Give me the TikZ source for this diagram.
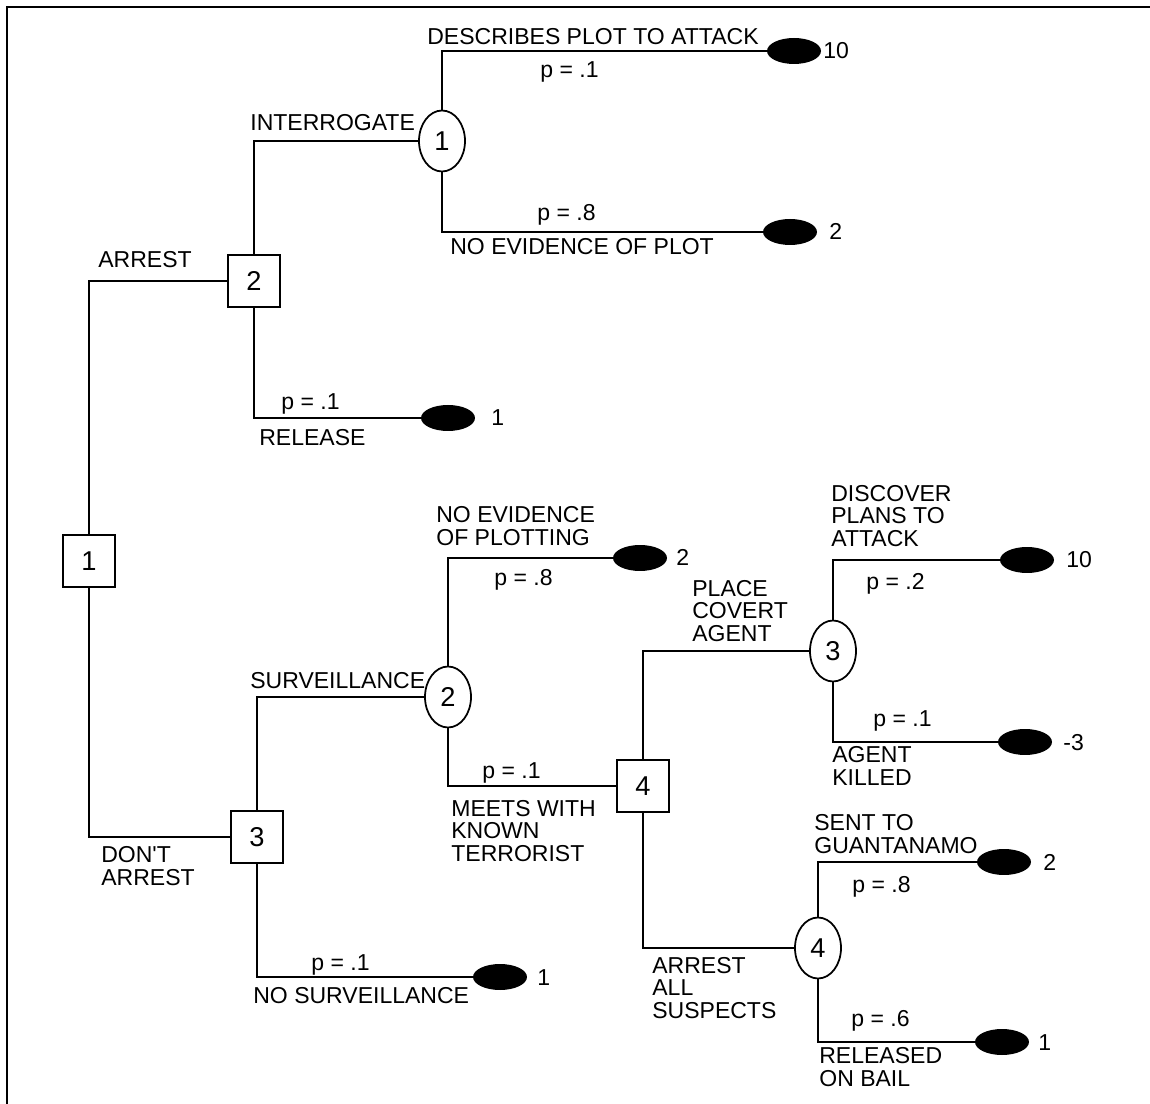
\documentclass[tikz,border=0pt]{standalone}
\usepackage{fontspec}
\setmainfont{Liberation Sans}
\usetikzlibrary{shapes.geometric, positioning}
\tikzstyle{decision} = [rectangle, draw=black, line width=1pt, minimum size=1.04cm, inner sep=0pt, fill=white, font=\fontsize{15.5pt}{16pt}\selectfont]
\tikzstyle{chance} = [ellipse, draw=black, line width=1pt, minimum width=0.92cm, minimum height=1.22cm, inner sep=0pt, fill=white, font=\fontsize{15.5pt}{16pt}\selectfont]
\tikzstyle{outcome} = [ellipse, fill=black, minimum width=1.08cm, minimum height=0.52cm, inner sep=0pt]
\tikzstyle{branch} = [anchor=west, inner sep=0pt, align=left]
\tikzstyle{prob} = [anchor=base west, inner sep=0pt]
\tikzstyle{payoff} = [anchor=base west, inner sep=0pt]
\tikzstyle{line} = [line width=1pt]

\begin{document}
\begin{tikzpicture}[x=0.02cm, y=-0.02cm, font=\fontsize{13.1pt}{13pt}\selectfont]
    \useasboundingbox (0,0) rectangle (1150,1104);
    \clip (0,0) rectangle (1150,1104);
    \draw [line width=1.4pt] (7,7) rectangle (1170,1130);

    % Decision nodes
    \node (d1) [decision] at (89,561) {1};
    \node (d2) [decision] at (254,281) {2};
    \node (d3) [decision] at (257,837) {3};
    \node (d4) [decision] at (643,786) {4};

    % Chance nodes
    \node (c1) [chance] at (442,141) {1};
    \node (c2) [chance] at (448,697) {2};
    \node (c3) [chance] at (833,651) {3};
    \node (c4) [chance] at (818,948) {4};

    % End nodes
    \node (t1) [outcome] at (794,51) {};
    \node (t2) [outcome] at (790,232) {};
    \node (t3) [outcome] at (448,418) {};
    \node (t4) [outcome] at (500,977) {};
    \node (t5) [outcome] at (640,558) {};
    \node (t6) [outcome] at (1027,560) {};
    \node (t7) [outcome] at (1025,742) {};
    \node (t8) [outcome] at (1004,862) {};
    \node (t9) [outcome] at (1002,1042) {};

    % Payoffs
    \node (v1) [payoff] at (823,59) {10};
    \node (v2) [payoff] at (829,240) {2};
    \node (v3) [payoff] at (491,426) {1};
    \node (v4) [payoff] at (537,985) {1};
    \node (v5) [payoff] at (676,566) {2};
    \node (v6) [payoff] at (1066,568) {10};
    \node (v7) [payoff] at (1063,750) {-3};
    \node (v8) [payoff] at (1043,870) {2};
    \node (v9) [payoff] at (1038,1050) {1};

    % Branches
    \foreach \a/\s/\b in {d1/north/d2, d1/south/d3, d2/north/c1, d2/south/t3,
        c1/north/t1, c1/south/t2, d3/north/c2, d3/south/t4, c2/north/t5,
        c2/south/d4, d4/north/c3, d4/south/c4, c3/north/t6, c3/south/t7,
        c4/north/t8, c4/south/t9}
        \draw [line] (\a.\s) |- (\b.west);

    % Branch labels
    \node (l1) [branch] at (98,260) {ARREST};
    \node (l2) [branch] at (101,866) {DON\textquotesingle T\\ARREST};
    \node (l3) [branch] at (250,123) {INTERROGATE};
    \node (l4) [branch] at (427,37) {DESCRIBES PLOT TO ATTACK};
    \node (l5) [branch] at (450,247) {NO EVIDENCE OF PLOT};
    \node (l6) [branch] at (259,438) {RELEASE};
    \node (l7) [branch] at (250,681) {SURVEILLANCE};
    \node (l8) [branch] at (436,526) {NO EVIDENCE\\OF PLOTTING};
    \node (l9) [branch] at (692,611) {PLACE\\COVERT\\AGENT};
    \node (l10) [branch] at (451,831) {MEETS WITH\\KNOWN\\TERRORIST};
    \node (l11) [branch] at (831,516) {DISCOVER\\PLANS TO\\ATTACK};
    \node (l12) [branch] at (832,766) {AGENT\\KILLED};
    \node (l13) [branch] at (814,834) {SENT TO\\GUANTANAMO};
    \node (l14) [branch] at (652,988) {ARREST\\ALL\\SUSPECTS};
    \node (l15) [branch] at (819,1067) {RELEASED\\ON BAIL};
    \node (l16) [branch] at (253,996) {NO SURVEILLANCE};

    % Probabilities
    \node (p1) [prob] at (540,78) {p = .1};
    \node (p2) [prob] at (537,221) {p = .8};
    \node (p3) [prob] at (281,410) {p = .1};
    \node (p4) [prob] at (494,586) {p = .8};
    \node (p5) [prob] at (482,778) {p = .1};
    \node (p6) [prob] at (866,590) {p = .2};
    \node (p7) [prob] at (873,726) {p = .1};
    \node (p8) [prob] at (852,892) {p = .8};
    \node (p9) [prob] at (851,1026) {p = .6};
    \node (p10) [prob] at (311,970) {p = .1};
\end{tikzpicture}
\end{document}
